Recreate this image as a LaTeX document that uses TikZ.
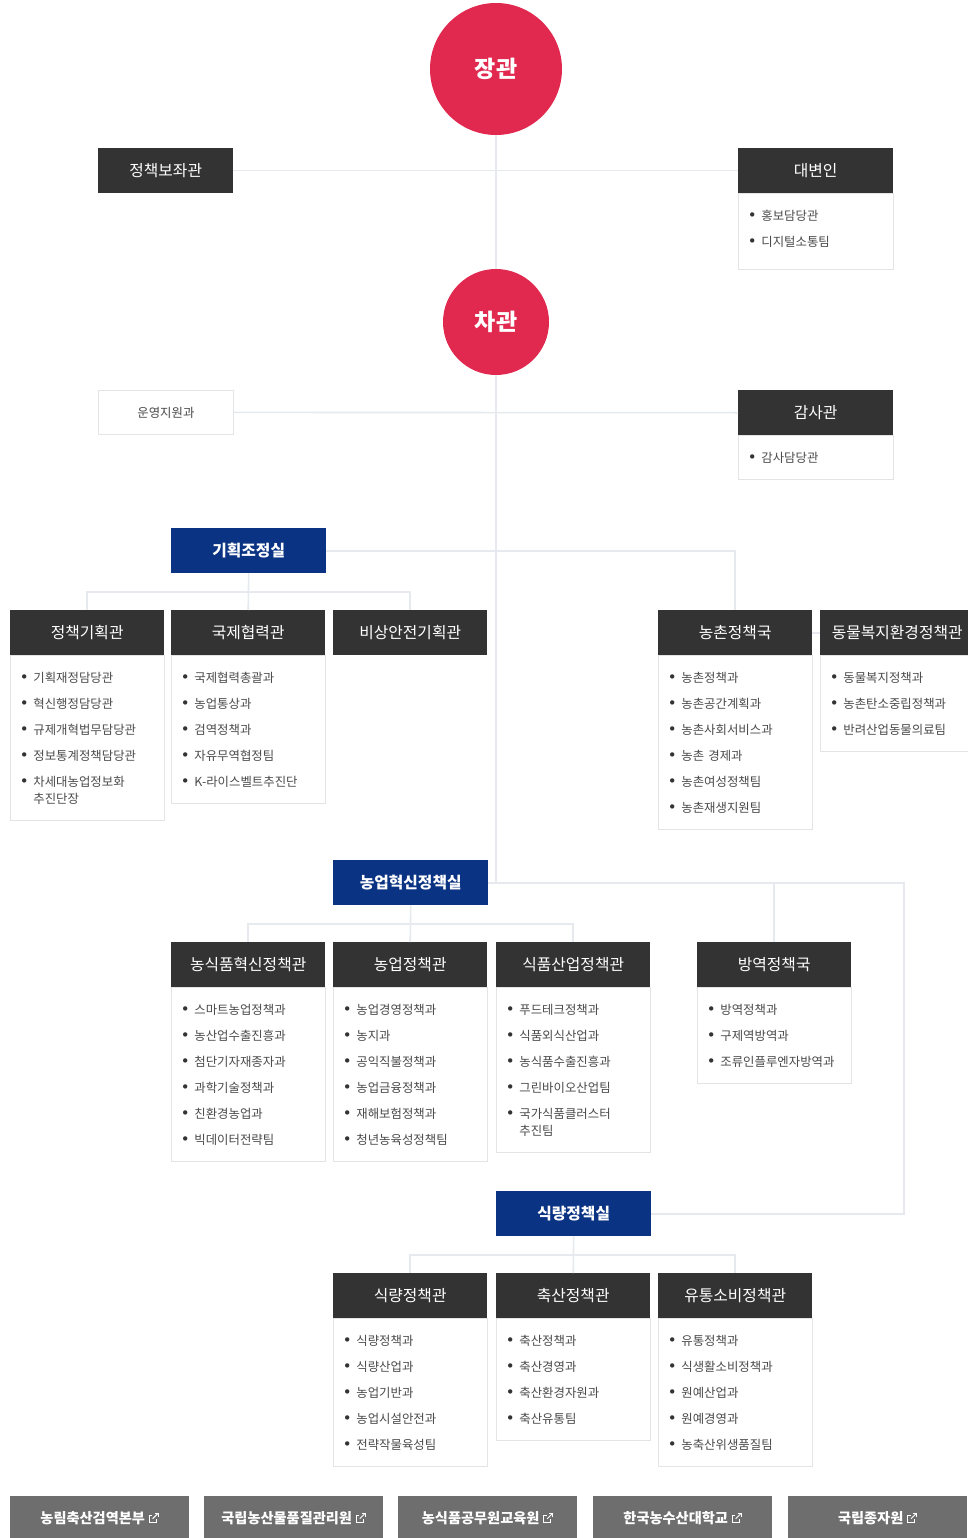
\documentclass[tikz,border=0pt]{standalone}
\usepackage{fontspec}
\setmainfont{Noto Sans CJK KR}
\newfontfamily\dotfont{DejaVu Sans}
\usetikzlibrary{calc}

\definecolor{minred}{HTML}{E1284F}
\definecolor{hdrdark}{HTML}{333333}
\definecolor{officeblue}{HTML}{0B3384}
\definecolor{linkline}{HTML}{E6E9EE}
\definecolor{boxline}{HTML}{E4E4E4}
\definecolor{itemtext}{HTML}{4A4A4A}
\definecolor{dotcol}{HTML}{333333}
\definecolor{btngray}{HTML}{6E6E6E}

% one list entry with a bullet
\newcommand\itm[1]{\makebox[13.5pt][l]{{\dotfont\fontsize{15}{15}\selectfont\color{dotcol}•}}#1}
% continuation line of a two-line entry
\newcommand\itmcont[1]{\\[-9pt]\hspace*{13.5pt}#1}

% link button with an external-link icon
\newcommand\linkbtn[3]{%
  \node[btn] (#1) at (#2,1496) {};
  \node[btnlbl] (#1l) at ($(#1.center)+(-7,0)$) {#3};
  \begin{scope}[shift={($(#1l.east)+(4,-5)$)}, white, line width=0.9pt]
    \draw (3,2) -- (0,2) -- (0,9) -- (7,9) -- (7,6);
    \draw (3.5,5.5) -- (9,0);
    \draw (5.5,0) -- (9,0) -- (9,3.5);
  \end{scope}}

\tikzset{
  hdr/.style={fill=hdrdark, text=white, minimum width=154, minimum height=45,
    inner sep=0, anchor=north west, font=\fontsize{15.8}{17}\selectfont},
  bluebox/.style={fill=officeblue, text=white, minimum width=155, minimum height=45,
    inner sep=0, anchor=north west, font=\bfseries\fontsize{15.8}{17}\selectfont},
  body/.style={draw=boxline, fill=white, line width=0.8pt, text width=135pt,
    inner xsep=9.5pt, inner ysep=16pt, align=left, anchor=north west,
    text=itemtext, font=\fontsize{12.4}{26}\selectfont},
  plainbox/.style={draw=boxline, fill=white, line width=0.8pt, text=itemtext,
    minimum width=135, minimum height=44, inner sep=0, anchor=north west,
    font=\fontsize{12.4}{14}\selectfont},
  circ/.style={circle, fill=minred, text=white, inner sep=0,
    font=\bfseries\fontsize{23}{24}\selectfont},
  conn/.style={draw=linkline, line width=1.6pt},
  btn/.style={fill=btngray, minimum width=179, minimum height=44, inner sep=0,
    anchor=north west},
  btnlbl/.style={text=white, inner sep=0, font=\bfseries\fontsize{14.2}{15}\selectfont},
}

\begin{document}
\begin{tikzpicture}[x=1pt, y=-1pt]
\useasboundingbox (0,0) rectangle (967,1538);
\fill[white] (0,0) rectangle (967,1538);

% ---- top level ----
\node[circ, minimum size=132] (jg) at (496,69) {장관};
\node[circ, minimum size=106] (cg) at (496,322) {차관};

\node[hdr, minimum width=135] (pa) at (98,148) {정책보좌관};
\node[hdr, minimum width=155] (sp) at (738,148) {대변인};
\node[body, text width=136pt] (spb) at (sp.south west) {\itm{홍보담당관}\\\itm{디지털소통팀}\\[-19pt]\mbox{}};

\node[plainbox] (ow) at (98,390) {운영지원과};
\node[hdr, minimum width=155] (ah) at (738,390) {감사관};
\node[body, text width=136pt] (ahb) at (ah.south west) {\itm{감사담당관}};

% ---- planning office ----
\node[bluebox] (gj) at (171,528) {기획조정실};

\node[hdr] (g1) at (10,610) {정책기획관};
\node[body] (g1b) at (g1.south west) {\itm{기획재정담당관}\\\itm{혁신행정담당관}\\\itm{규제개혁법무담당관}\\\itm{정보통계정책담당관}\\\itm{차세대농업정보화}\itmcont{추진단장}};
\node[hdr] (g2) at (171,610) {국제협력관};
\node[body] (g2b) at (g2.south west) {\itm{국제협력총괄과}\\\itm{농업통상과}\\\itm{검역정책과}\\\itm{자유무역협정팀}\\\itm{K-라이스벨트추진단}};
\node[hdr] (g3) at (333,610) {비상안전기획관};

\node[hdr] (rh) at (658,610) {농촌정책국};
\node[body] (rhb) at (rh.south west) {\itm{농촌정책과}\\\itm{농촌공간계획과}\\\itm{농촌사회서비스과}\\\itm{농촌 경제과}\\\itm{농촌여성정책팀}\\\itm{농촌재생지원팀}};
\node[hdr] (aw) at (820,610) {동물복지환경정책관};
\node[body] (awb) at (aw.south west) {\itm{동물복지정책과}\\\itm{농촌탄소중립정책과}\\\itm{반려산업동물의료팀}};

% ---- agricultural innovation office ----
\node[bluebox] (nh) at (333,860) {농업혁신정책실};

\node[hdr] (n1) at (171,942) {농식품혁신정책관};
\node[body] (n1b) at (n1.south west) {\itm{스마트농업정책과}\\\itm{농산업수출진흥과}\\\itm{첨단기자재종자과}\\\itm{과학기술정책과}\\\itm{친환경농업과}\\\itm{빅데이터전략팀}};
\node[hdr] (n2) at (333,942) {농업정책관};
\node[body] (n2b) at (n2.south west) {\itm{농업경영정책과}\\\itm{농지과}\\\itm{공익직불정책과}\\\itm{농업금융정책과}\\\itm{재해보험정책과}\\\itm{청년농육성정책팀}};
\node[hdr] (n3) at (496,942) {식품산업정책관};
\node[body] (n3b) at (n3.south west) {\itm{푸드테크정책과}\\\itm{식품외식산업과}\\\itm{농식품수출진흥과}\\\itm{그린바이오산업팀}\\\itm{국가식품클러스터}\itmcont{추진팀}};

\node[hdr] (bh) at (697,942) {방역정책국};
\node[body] (bhb) at (bh.south west) {\itm{방역정책과}\\\itm{구제역방역과}\\\itm{조류인플루엔자방역과}};

% ---- food policy office ----
\node[bluebox] (sr) at (496,1191) {식량정책실};

\node[hdr] (s1) at (333,1273) {식량정책관};
\node[body] (s1b) at (s1.south west) {\itm{식량정책과}\\\itm{식량산업과}\\\itm{농업기반과}\\\itm{농업시설안전과}\\\itm{전략작물육성팀}};
\node[hdr] (s2) at (496,1273) {축산정책관};
\node[body] (s2b) at (s2.south west) {\itm{축산정책과}\\\itm{축산경영과}\\\itm{축산환경자원과}\\\itm{축산유통팀}};
\node[hdr] (s3) at (658,1273) {유통소비정책관};
\node[body] (s3b) at (s3.south west) {\itm{유통정책과}\\\itm{식생활소비정책과}\\\itm{원예산업과}\\\itm{원예경영과}\\\itm{농축산위생품질팀}};

% ---- connectors ----
\coordinate (rtrail) at (904,0);
\draw[conn] (jg.south) -- (cg.north);
\draw[conn] (cg.south) -- (cg.south |- nh.east);
\draw[conn] (pa.east) -- (sp.west);
\draw[conn] (ow.east) -- (ah.west);
\draw[conn] (gj.east) -| (rh.north);
\draw[conn] (rh.east) -- (aw.west);
\draw[conn] (g1.north) -- ++(0,-18) -| (g3.north);
\draw[conn] (gj.south) -- (g2.north);
\draw[conn] (nh.east) -- (nh.east -| rtrail) |- (sr.east);
\draw[conn] (bh.north) -- (bh.north |- nh.east);
\draw[conn] (n1.north) -- ++(0,-18) -| (n3.north);
\draw[conn] (nh.south) -- (n2.north);
\draw[conn] (s1.north) -- ++(0,-18) -| (s3.north);
\draw[conn] (sr.south) -- (s2.north);

% ---- affiliated agencies ----
\linkbtn{ag1}{10}{농림축산검역본부}
\linkbtn{ag2}{204}{국립농산물품질관리원}
\linkbtn{ag3}{398}{농식품공무원교육원}
\linkbtn{ag4}{593}{한국농수산대학교}
\linkbtn{ag5}{788}{국립종자원}
\end{tikzpicture}
\end{document}
